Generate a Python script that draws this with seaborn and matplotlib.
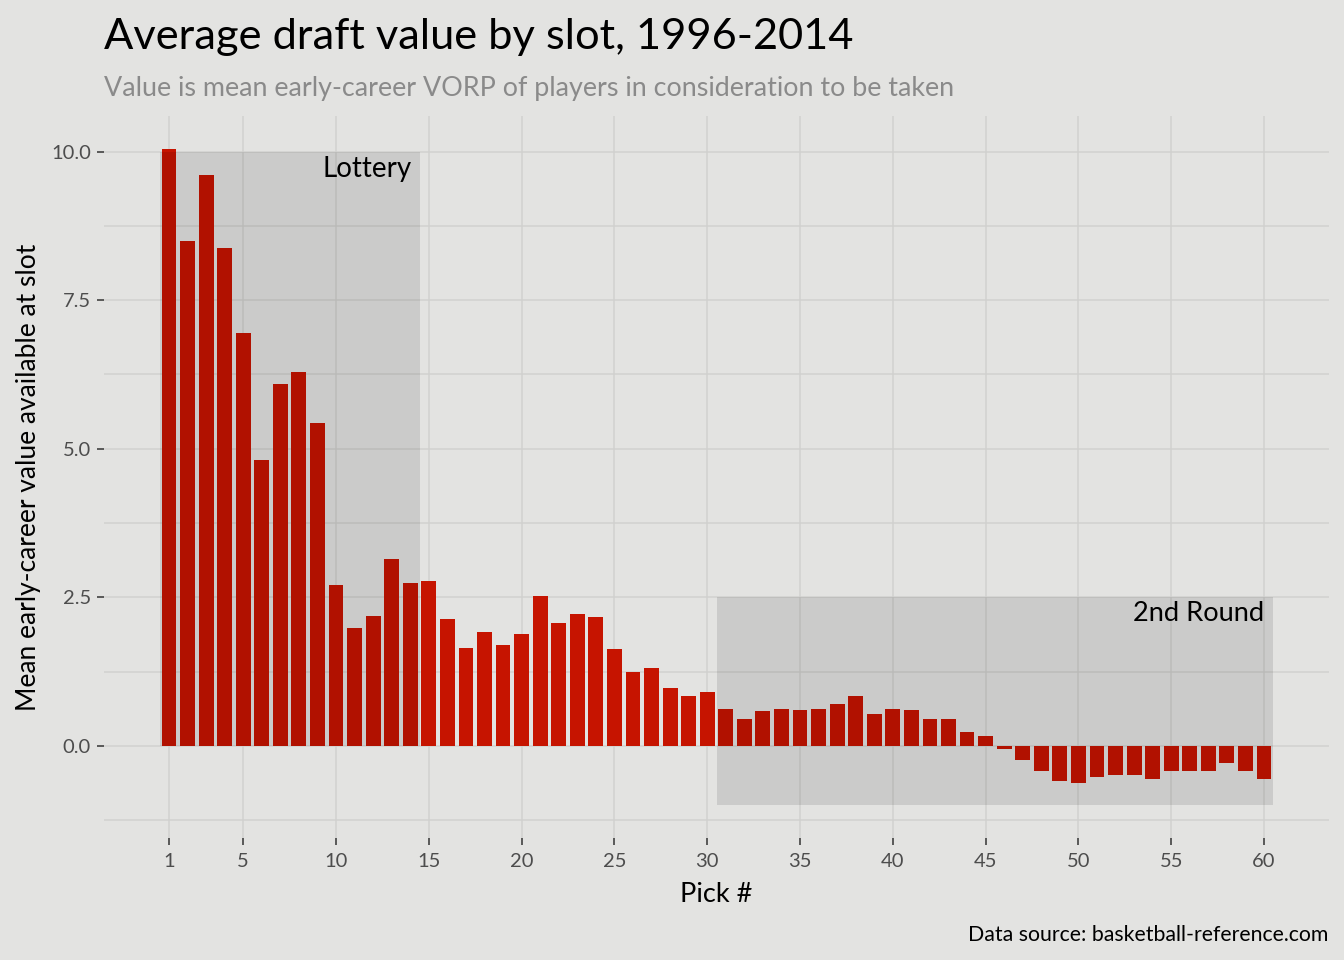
import numpy as np
import pandas as pd
import matplotlib
matplotlib.use('Agg')
import matplotlib.pyplot as plt
from matplotlib.patches import Rectangle
from matplotlib.ticker import MultipleLocator, FixedLocator
import seaborn as sns

# mean early-career VORP available at each draft slot
picks = list(range(1, 61))
vorp = [10.05, 8.50, 9.61, 8.38, 6.94, 4.81, 6.09, 6.30, 5.44, 2.71,
        1.99, 2.19, 3.15, 2.74, 2.78, 2.14, 1.65, 1.92, 1.70, 1.89,
        2.53, 2.07, 2.22, 2.17, 1.63, 1.25, 1.31, 0.98, 0.84, 0.91,
        0.62, 0.45, 0.59, 0.62, 0.61, 0.62, 0.71, 0.84, 0.54, 0.62,
        0.61, 0.45, 0.45, 0.24, 0.17, -0.05, -0.24, -0.42, -0.59, -0.62,
        -0.52, -0.49, -0.49, -0.56, -0.42, -0.42, -0.42, -0.29, -0.42, -0.56]

# shaded regions: (label, x from, x to, y from, y to)
lottery = ("Lottery", 0.5, 14.5, 0.0, 10.0)
second_round = ("2nd Round", 30.5, 60.5, -1.0, 2.5)

x_ticks = [1, 5, 10, 15, 20, 25, 30, 35, 40, 45, 50, 55, 60]
y_ticks = [0.0, 2.5, 5.0, 7.5, 10.0]

df = pd.DataFrame({"pick": picks, "vorp": vorp})

BG = '#e3e3e1'
GRID = '#d1d1cf'
BAR = '#c61400'

sns.set_theme(style='darkgrid', rc={
    'figure.facecolor': BG, 'axes.facecolor': BG,
    'grid.color': GRID, 'grid.linewidth': 1.1,
    'axes.edgecolor': BG,
    'xtick.bottom': True, 'ytick.left': True,
})
plt.rcParams['font.family'] = ['Lato', 'DejaVu Sans']

fig = plt.figure(figsize=(13.44, 9.6), dpi=100)
ax = fig.add_axes([104 / 1344, 1 - 838 / 960, (1329 - 104) / 1344, (838 - 116) / 960])

sns.barplot(data=df, x="pick", y="vorp", native_scale=True, color=BAR,
            saturation=1, width=0.8, errorbar=None, linewidth=0, ax=ax, zorder=2)

for name, x0, x1, y0, y1 in (lottery, second_round):
    ax.add_patch(Rectangle((x0, y0), x1 - x0, y1 - y0, facecolor='black',
                           alpha=0.1, linewidth=0, zorder=3))

ax.text(14.08, 9.93, lottery[0], ha='right', va='top', fontsize=20, color='black', zorder=4)
ax.text(60.0, 2.43, second_round[0], ha='right', va='top', fontsize=19.6, color='black', zorder=4)

ax.set_xlim(-2.5, 63.5)
ax.set_ylim(-1.55, 10.6)
ax.xaxis.set_major_locator(FixedLocator(x_ticks))
ax.set_xticklabels([str(t) for t in x_ticks])
ax.yaxis.set_major_locator(FixedLocator(y_ticks))
ax.set_yticklabels([f'{t:.1f}' for t in y_ticks])
ax.yaxis.set_minor_locator(MultipleLocator(1.25))
ax.grid(True, which='major', axis='both', color=GRID, linewidth=1.1, zorder=0)
ax.grid(True, which='minor', axis='y', color=GRID, linewidth=1.1, zorder=0)
ax.set_axisbelow(True)
ax.tick_params(axis='both', which='major', length=5, width=1.1, color='#333333',
               labelsize=14.5, labelcolor='#4d4d4d', pad=4.5, bottom=True, left=True)
ax.tick_params(axis='y', which='minor', length=0)
ax.tick_params(axis='x', which='major', pad=6)
ax.set_xlabel('')
ax.set_ylabel('')
for s in ax.spines.values():
    s.set_visible(False)

fig.text(104 / 1344, 1 - 49.5 / 960, 'Average draft value by slot, 1996-2014',
         ha='left', va='baseline', fontsize=31.2, color='black')
fig.text(104 / 1344, 1 - 96 / 960,
         'Value is mean early-career VORP of players in consideration to be taken',
         ha='left', va='baseline', fontsize=19.4, color='#8a8a8a')
fig.text(716.5 / 1344, 1 - 902 / 960, 'Pick #', ha='center', va='baseline',
         fontsize=19.5, color='black')
fig.text(28.5 / 1344, 1 - 477 / 960, 'Mean early-career value available at slot',
         ha='center', va='center', rotation=90, fontsize=19, color='black')
fig.text(1328 / 1344, 1 - 941 / 960, 'Data source: basketball-reference.com',
         ha='right', va='baseline', fontsize=15.3, color='black')

fig.savefig('out.png', dpi=100, facecolor=BG)
